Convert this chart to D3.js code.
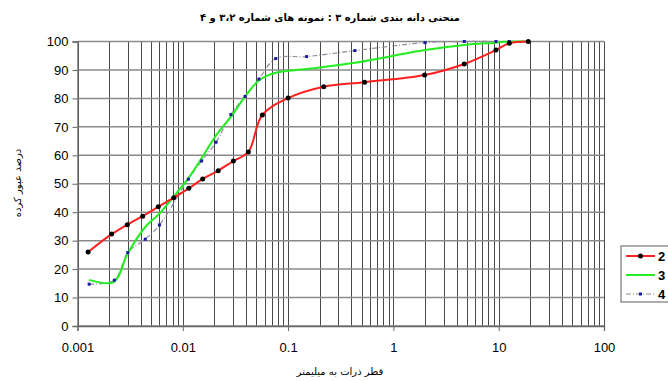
<!DOCTYPE html>
<html>
<head>
<meta charset="utf-8">
<script src="https://cdn.jsdelivr.net/npm/d3@7"></script>
<style>
  body { margin: 0; background: #fff; }
  svg { display: block; }
</style>
</head>
<body>
<script>
// Data: [diameter mm, percent passing]
const sample2 = [[0.00126, 26.0], [0.00211, 32.3], [0.00297, 35.6], [0.00416, 38.6], [0.00585, 41.9],
  [0.0082, 45.1], [0.0114, 48.4], [0.01545, 51.7], [0.0217, 54.6], [0.0302, 58.0], [0.0419, 61.2],
  [0.0569, 74.2], [0.1, 80.1], [0.218, 84.1], [0.533, 85.7], [1.98, 88.2], [4.71, 92.1],
  [9.42, 97.0], [12.6, 99.4], [19.1, 100]];
const sample3 = [[0.00129, 16.2], [0.0022, 15.4], [0.003, 25.5], [0.0044, 34.8], [0.006, 39.5],
  [0.0082, 45.5], [0.0113, 52.0], [0.0151, 59.0], [0.0207, 67.0], [0.0286, 73.5], [0.039, 80.6],
  [0.0528, 86.3], [0.0763, 89.0], [0.15, 90.3], [0.43, 92.5], [2.0, 97.0], [4.71, 98.8],
  [9.42, 99.6], [12.6, 100], [19.1, 100]];
const sample4 = [[0.00129, 14.7], [0.00224, 16.1], [0.003, 25.8], [0.0044, 30.5], [0.006, 35.5],
  [0.0113, 51.6], [0.0151, 58.0], [0.0207, 64.6], [0.0286, 74.3], [0.039, 80.7], [0.0528, 86.8],
  [0.0763, 94.0], [0.15, 94.7], [0.43, 96.8], [2.0, 99.6], [4.71, 100], [9.42, 100],
  [12.6, 100], [19.1, 100]];
const seriesNames = ["2", "3", "4"];
const xTicks = [0.001, 0.01, 0.1, 1, 10, 100];
const xTickLabels = ["0.001", "0.01", "0.1", "1", "10", "100"];
const yTicks = [0, 10, 20, 30, 40, 50, 60, 70, 80, 90, 100];

const width = 668, height = 381;
const margin = {top: 41.5, left: 77.5, right: 64, bottom: 55};

const svg = d3.select("body").append("svg").attr("width", width).attr("height", height);

const x = d3.scaleLog().domain([0.001, 100]).range([margin.left, width - margin.right]);
const y = d3.scaleLinear().domain([0, 100]).range([height - margin.bottom, margin.top]);

// grid: every 1..9 in each decade
const minor = [];
for (let e = -3; e < 2; e++) for (let k = 1; k < 10; k++) minor.push(k * Math.pow(10, e));
minor.push(100);

const grid = svg.append("g");
grid.selectAll("line.v").data(minor).join("line").attr("class", "v")
    .attr("x1", d => Math.round(x(d)) + 0.5).attr("x2", d => Math.round(x(d)) + 0.5)
    .attr("y1", y(100)).attr("y2", y(0))
    .attr("stroke", "#4a4a4a").attr("stroke-width", 1);
grid.selectAll("line.h").data(yTicks).join("line").attr("class", "h")
    .attr("x1", x(0.001)).attr("x2", x(100))
    .attr("y1", d => y(d)).attr("y2", d => y(d))
    .attr("stroke", "#8a8a8a").attr("stroke-width", 1.5);

// axes
const yAxis = svg.append("g").attr("transform", `translate(${x(0.001)},0)`)
    .call(d3.axisLeft(y).tickValues(yTicks).tickSize(5).tickPadding(4));
const xAxis = svg.append("g").attr("transform", `translate(0,${y(0)})`)
    .call(d3.axisBottom(x).tickValues(xTicks).tickFormat((d, i) => xTickLabels[i]).tickSize(5).tickPadding(12));
[yAxis, xAxis].forEach(a => {
  a.select(".domain").attr("stroke", "#666").attr("stroke-width", 1.3);
  a.selectAll(".tick line").attr("stroke", "#666");
  a.selectAll("text").attr("font-family", "Liberation Sans, Arial, sans-serif")
    .attr("font-size", 13).attr("fill", "#000");
});

// series
const line = d3.line().x(d => x(d[0])).y(d => y(d[1])).curve(d3.curveCatmullRom.alpha(0.5));

svg.append("path").datum(sample4).attr("d", line).attr("fill", "none")
   .attr("stroke", "#8c8c9c").attr("stroke-width", 1.2).attr("stroke-dasharray", "5,2,1,2");
svg.append("path").datum(sample3).attr("d", line).attr("fill", "none")
   .attr("stroke", "#22ee22").attr("stroke-width", 2);
svg.append("path").datum(sample2).attr("d", line).attr("fill", "none")
   .attr("stroke", "#ff2020").attr("stroke-width", 2);

svg.append("g").selectAll("rect").data(sample4).join("rect")
   .attr("x", d => x(d[0]) - 1.5).attr("y", d => y(d[1]) - 1.5)
   .attr("width", 3).attr("height", 3).attr("fill", "#1a1aa0");
svg.append("g").selectAll("circle").data(sample2).join("circle")
   .attr("cx", d => x(d[0])).attr("cy", d => y(d[1])).attr("r", 2.5).attr("fill", "#000");

// legend
const lg = svg.append("g").attr("transform", "translate(621,246)");
lg.append("rect").attr("x", 0).attr("y", 0).attr("width", 60).attr("height", 56)
  .attr("fill", "#fff").attr("stroke", "#777").attr("stroke-width", 1.2);
const items = lg.selectAll("g").data(seriesNames).join("g")
  .attr("transform", (d, i) => `translate(0,${10 + i * 19})`);
items.append("line").attr("x1", 5).attr("x2", 34).attr("y1", 0).attr("y2", 0)
  .attr("stroke", (d, i) => ["#ff2020", "#22ee22", "#8c8c9c"][i])
  .attr("stroke-width", (d, i) => i == 2 ? 1.2 : 2)
  .attr("stroke-dasharray", (d, i) => i == 2 ? "5,2,1,2" : null);
items.filter((d, i) => i == 0).append("circle").attr("cx", 19.5).attr("cy", 0).attr("r", 2.5).attr("fill", "#000");
items.filter((d, i) => i == 2).append("rect").attr("x", 18).attr("y", -1.5).attr("width", 3).attr("height", 3).attr("fill", "#1a1aa0");
items.append("text").attr("x", 37).attr("y", 5).text(d => d)
  .attr("font-family", "Liberation Sans, Arial, sans-serif").attr("font-size", 13).attr("font-weight", "bold");

// titles
svg.append("text").attr("x", 330).attr("y", 21).attr("text-anchor", "middle")
  .attr("direction", "rtl").attr("font-family", "DejaVu Sans, sans-serif").attr("font-size", 10).attr("font-weight", "bold")
  .text("منحنی دانه بندی شماره ۳ : نمونه های شماره ۲،\u200F۳ و ۴");
svg.append("text").attr("x", 340).attr("y", 375).attr("text-anchor", "middle")
  .attr("direction", "rtl").attr("font-family", "DejaVu Sans, sans-serif").attr("font-size", 10)
  .text("قطر ذرات به میلیمتر");
svg.append("text").attr("transform", "translate(21,183) rotate(-90)").attr("text-anchor", "middle")
  .attr("direction", "rtl").attr("font-family", "DejaVu Sans, sans-serif").attr("font-size", 10)
  .text("درصد عبور کرده");
</script>
</body>
</html>
